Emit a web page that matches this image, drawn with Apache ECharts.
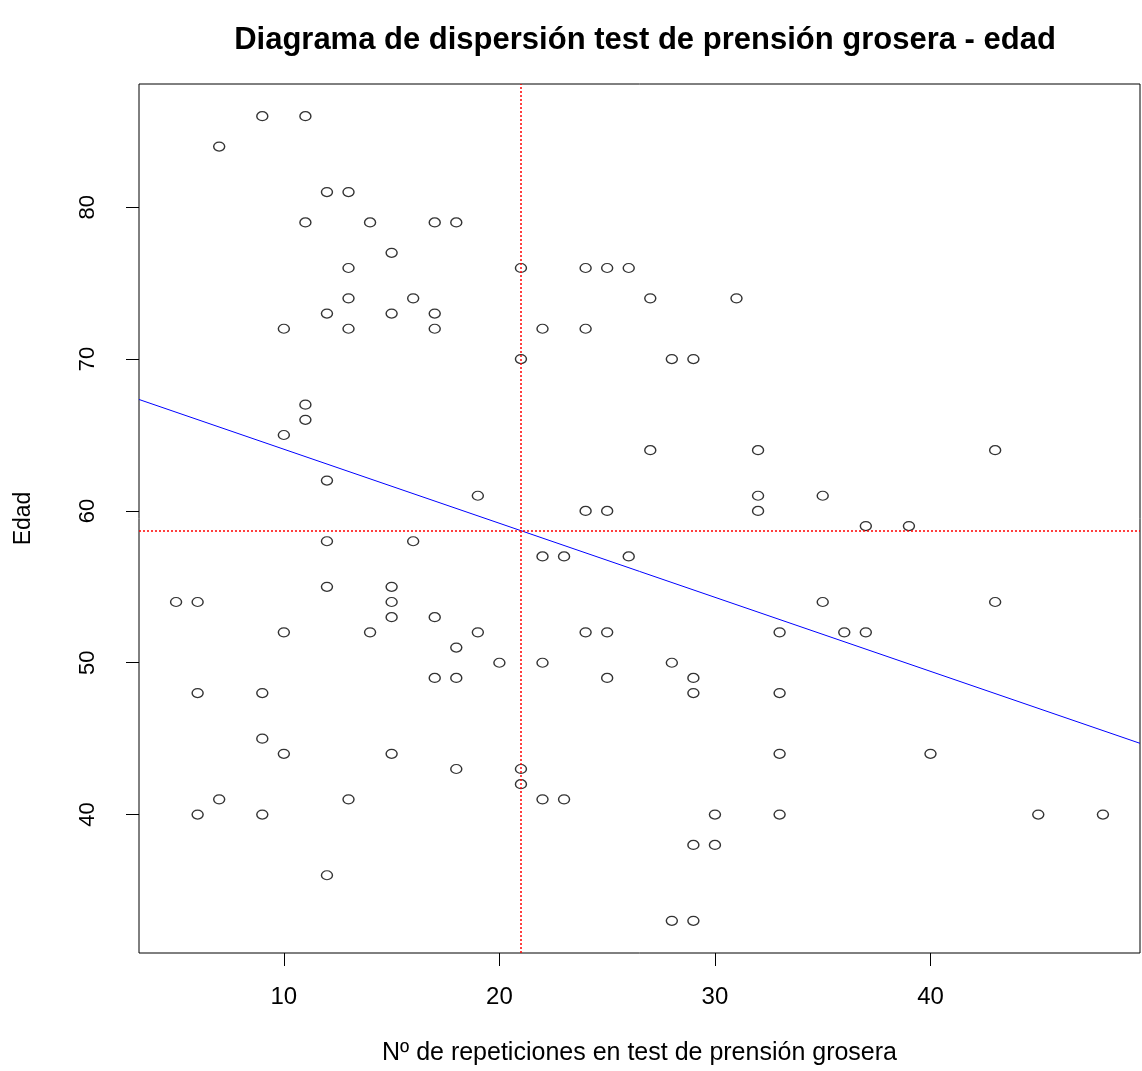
<!DOCTYPE html>
<html>
<head>
<meta charset="utf-8">
<script src="https://cdn.jsdelivr.net/npm/echarts@6/dist/echarts.min.js"></script>
<style>
  html, body { margin: 0; padding: 0; background: #fff; }
  #chart { width: 1142px; height: 1071px; }
</style>
</head>
<body>
<div id="chart"></div>
<script>
// Nº de repeticiones en el test y edad de cada persona
const repeticiones = [
  9, 11, 7, 12, 13, 11, 14, 17, 18, 15,
  13, 21, 24, 25, 26, 13, 16, 27, 31, 12,
  15, 17, 10, 13, 17, 22, 24, 21, 28, 29,
  11, 11, 10, 27, 32, 43, 12, 19, 32, 35,
  24, 25, 32, 37, 39, 12, 16, 22, 23, 26,
  12, 15, 5, 6, 15, 35, 43, 15, 17, 10,
  14, 19, 24, 25, 33, 36, 37, 18, 20, 22,
  28, 17, 18, 25, 29, 6, 9, 29, 33, 9,
  10, 15, 33, 40, 18, 21, 21, 7, 13, 22,
  23, 6, 9, 30, 33, 45, 48, 29, 30, 12,
  28, 29
]
const edad = [
  86, 86, 84, 81, 81, 79, 79, 79, 79, 77,
  76, 76, 76, 76, 76, 74, 74, 74, 74, 73,
  73, 73, 72, 72, 72, 72, 72, 70, 70, 70,
  67, 66, 65, 64, 64, 64, 62, 61, 61, 61,
  60, 60, 60, 59, 59, 58, 58, 57, 57, 57,
  55, 55, 54, 54, 54, 54, 54, 53, 53, 52,
  52, 52, 52, 52, 52, 52, 52, 51, 50, 50,
  50, 49, 49, 49, 49, 48, 48, 48, 48, 45,
  44, 44, 44, 44, 43, 43, 42, 41, 41, 41,
  41, 40, 40, 40, 40, 40, 40, 38, 38, 36,
  33, 33
]

const xTicks = [10, 20, 30, 40]
const yTicks = [40, 50, 60, 70, 80]

// medias (líneas rojas) y recta de regresión (azul)
const mediaRep = 21
const mediaEdad = 58.7
const intercepto = 68.94
const pendiente = -0.4877

const xMin = 3.28
const xMax = 49.72
const yMin = 30.88
const yMax = 88.12

const puntos = repeticiones.map((r, i) => [r, edad[i]])
const recta = [xMin, xMax].map(x => [x, intercepto + pendiente * x])

const fuente = "'Liberation Sans', Arial, sans-serif"
// círculo abierto, algo más ancho que alto como en la imagen original
const circulo = 'path://M1,0A1,1,0,1,1,-1,0A1,1,0,1,1,1,0Z'

const chart = echarts.init(document.getElementById('chart'))
chart.setOption({
  animation: false,
  title: {
    text: 'Diagrama de dispersión test de prensión grosera - edad',
    left: 640,
    top: 20,
    textAlign: 'center',
    textStyle: {
      fontFamily: fuente,
      fontWeight: 'bold',
      fontSize: 31,
      color: '#000'
    }
  },
  grid: {
    left: 139,
    right: 2,
    top: 84,
    bottom: 114,
    show: true,
    borderColor: '#000',
    borderWidth: 1,
    backgroundColor: 'transparent'
  },
  xAxis: {
    type: 'value',
    min: xMin,
    max: xMax,
    name: 'Nº de repeticiones en test de prensión grosera',
    nameLocation: 'middle',
    nameGap: 88,
    nameTextStyle: { fontFamily: fuente, fontSize: 25, color: '#000' },
    axisLine: { show: false },
    splitLine: { show: false },
    axisTick: {
      show: true,
      inside: false,
      length: 13,
      customValues: xTicks,
      lineStyle: { color: '#000', width: 1 }
    },
    axisLabel: {
      customValues: xTicks,
      margin: 32,
      fontFamily: fuente,
      fontSize: 24,
      color: '#000'
    }
  },
  yAxis: {
    type: 'value',
    min: yMin,
    max: yMax,
    name: 'Edad',
    nameLocation: 'middle',
    nameRotate: 90,
    nameGap: 104,
    nameTextStyle: { fontFamily: fuente, fontSize: 23, color: '#000' },
    axisLine: { show: false },
    splitLine: { show: false },
    axisTick: {
      show: true,
      inside: false,
      length: 13,
      customValues: yTicks,
      lineStyle: { color: '#000', width: 1 }
    },
    axisLabel: {
      customValues: yTicks,
      rotate: 90,
      margin: 40,
      fontFamily: fuente,
      fontSize: 22,
      color: '#000'
    }
  },
  series: [
    {
      type: 'scatter',
      data: puntos,
      symbol: circulo,
      symbolSize: [11, 9],
      itemStyle: {
        color: 'rgba(0,0,0,0)',
        borderColor: '#000',
        borderWidth: 1.3
      },
      emphasis: { disabled: true },
      markLine: {
        silent: true,
        symbol: 'none',
        label: { show: false },
        lineStyle: { color: '#ff0000', type: [2, 2], width: 1.5 },
        data: [{ xAxis: mediaRep }, { yAxis: mediaEdad }]
      }
    },
    {
      type: 'line',
      data: recta,
      symbol: 'none',
      lineStyle: { color: '#0000ff', width: 1 },
      silent: true
    }
  ]
})
</script>
</body>
</html>
